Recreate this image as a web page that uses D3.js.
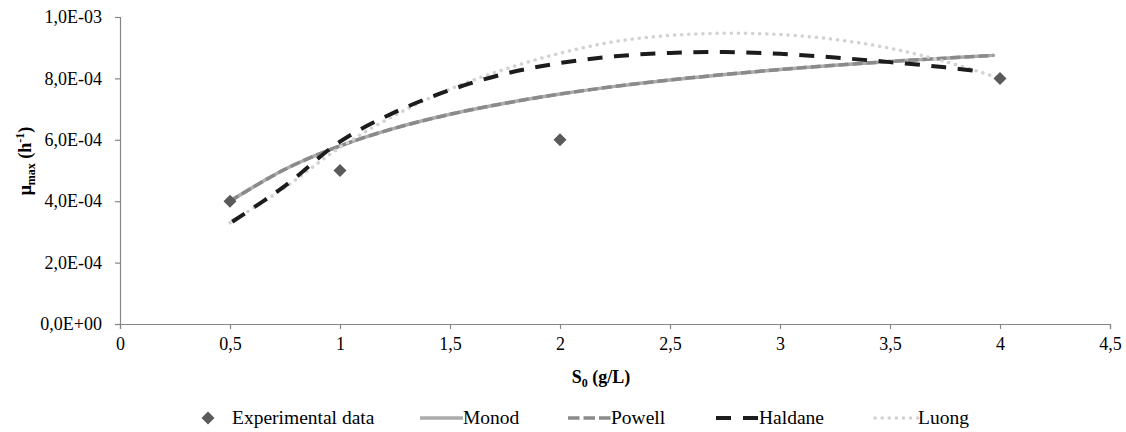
<!DOCTYPE html>
<html>
<head>
<meta charset="utf-8">
<script src="https://cdn.jsdelivr.net/npm/d3@7"></script>
<style>
  html, body { margin: 0; padding: 0; background: #fff; }
</style>
</head>
<body>
<svg id="chart" width="1126" height="432"></svg>
<script>
// Substrate concentration S0 (g/L) and measured maximum specific growth rates
const expS = [0.5, 1, 2, 4];
const expMu = [4.0e-4, 5.0e-4, 6.0e-4, 8.0e-4];

// Model curves (μmax in h-1)
const monodS = [0.5, 0.75, 1, 1.25, 1.5, 1.75, 2, 2.25, 2.5, 2.75, 3, 3.25, 3.5, 3.75, 3.97];
const monodMu = [4.0e-4, 5.04e-4, 5.80e-4, 6.38e-4, 6.83e-4, 7.19e-4, 7.49e-4, 7.74e-4, 7.95e-4, 8.13e-4, 8.29e-4, 8.43e-4, 8.55e-4, 8.66e-4, 8.75e-4];

const powellS = [0.5, 0.75, 1, 1.25, 1.5, 1.75, 2, 2.25, 2.5, 2.75, 3, 3.25, 3.5, 3.75, 3.97];
const powellMu = [4.0e-4, 5.04e-4, 5.80e-4, 6.38e-4, 6.83e-4, 7.19e-4, 7.49e-4, 7.74e-4, 7.95e-4, 8.13e-4, 8.29e-4, 8.43e-4, 8.55e-4, 8.66e-4, 8.75e-4];

const haldaneS = [0.51, 0.75, 1, 1.25, 1.5, 1.75, 2, 2.25, 2.5, 2.75, 3, 3.25, 3.5, 3.75, 3.92];
const haldaneMu = [3.33e-4, 4.5e-4, 5.94e-4, 6.9e-4, 7.62e-4, 8.15e-4, 8.5e-4, 8.72e-4, 8.83e-4, 8.86e-4, 8.80e-4, 8.68e-4, 8.53e-4, 8.36e-4, 8.22e-4];

const luongS = [0.5, 0.75, 1, 1.25, 1.5, 1.75, 2, 2.25, 2.5, 2.75, 3, 3.25, 3.5, 3.75, 4];
const luongMu = [3.3e-4, 4.45e-4, 5.75e-4, 6.8e-4, 7.65e-4, 8.3e-4, 8.82e-4, 9.2e-4, 9.4e-4, 9.47e-4, 9.43e-4, 9.27e-4, 8.98e-4, 8.55e-4, 8.0e-4];

const xTicks = [0, 0.5, 1, 1.5, 2, 2.5, 3, 3.5, 4, 4.5];
const yTicks = [0, 2e-4, 4e-4, 6e-4, 8e-4, 1e-3];
const legendNames = ["Experimental data", "Monod", "Powell", "Haldane", "Luong"];

const FONT = "Liberation Serif, Times New Roman, serif";
const svg = d3.select("#chart").attr("font-family", FONT);
const x = d3.scaleLinear().domain([0, 4.5]).range([120, 1110]);
const y = d3.scaleLinear().domain([0, 1e-3]).range([324, 17]);
const axisColor = "#868686";

// Decimal comma formats
const fmtX = v => String(v).replace(".", ",");
const fmtY = v => {
  const [m, e] = v.toExponential(1).split("e");
  const n = parseInt(e, 10);
  return m.replace(".", ",") + "E" + (n < 0 ? "-" : "+") + String(Math.abs(n)).padStart(2, "0");
};

// Axes
const xAxis = svg.append("g")
  .attr("transform", `translate(0,${y(0)})`)
  .call(d3.axisBottom(x).tickValues(xTicks).tickFormat(fmtX).tickSizeOuter(0).tickSize(5).tickPadding(5));
const yAxis = svg.append("g")
  .attr("transform", `translate(${x(0)},0)`)
  .call(d3.axisLeft(y).tickValues(yTicks).tickFormat(fmtY).tickSizeOuter(0).tickSize(5).tickPadding(13));
[xAxis, yAxis].forEach(g => {
  g.attr("font-family", FONT).attr("font-size", 18);
  g.select(".domain").attr("stroke", axisColor).attr("stroke-width", 1.2);
  g.selectAll(".tick line").attr("stroke", axisColor).attr("stroke-width", 1.2);
  g.selectAll(".tick text").attr("fill", "#000");
});
xAxis.selectAll(".tick text").attr("dy", "0.9em");

// Curves
const styles = {
  Monod:   { stroke: "#ababab", width: 3.5, dash: null, cap: "round" },
  Powell:  { stroke: "#8a8a8a", width: 3.5, dash: "10,4", cap: "butt" },
  Haldane: { stroke: "#1c1c1c", width: 4,   dash: "15,11.5", cap: "butt" },
  Luong:   { stroke: "#d2d2d2", width: 3.5, dash: "0.1,7", cap: "round" }
};
const line = d3.line().x(d => x(d[0])).y(d => y(d[1])).curve(d3.curveCatmullRom.alpha(0.5));
const series = [
  ["Monod", monodS, monodMu],
  ["Powell", powellS, powellMu],
  ["Luong", luongS, luongMu],
  ["Haldane", haldaneS, haldaneMu]
];
series.forEach(([name, s, mu]) => {
  const st = styles[name];
  svg.append("path")
    .datum(s.map((v, i) => [v, mu[i]]))
    .attr("fill", "none")
    .attr("stroke", st.stroke)
    .attr("stroke-width", st.width)
    .attr("stroke-linecap", st.cap)
    .attr("stroke-dasharray", st.dash)
    .attr("d", line);
});

// Experimental points
const diamond = d3.symbol(d3.symbolSquare, 85);
svg.append("g").selectAll("path")
  .data(expS.map((v, i) => [v, expMu[i]]))
  .join("path")
  .attr("d", diamond)
  .attr("fill", "#5a5a5a")
  .attr("transform", d => `translate(${x(d[0])},${y(d[1])}) rotate(45)`);

// Axis titles
const xt = svg.append("text")
  .attr("x", 601).attr("y", 383)
  .attr("text-anchor", "middle")
  .attr("font-size", 18).attr("font-weight", "bold");
xt.append("tspan").text("S");
xt.append("tspan").attr("dy", 4).attr("font-size", 12).text("0");
xt.append("tspan").attr("dy", -4).text(" (g/L)");

const yt = svg.append("text")
  .attr("transform", "translate(31,161) rotate(-90)")
  .attr("text-anchor", "middle")
  .attr("font-size", 18).attr("font-weight", "bold");
yt.append("tspan").text("μ");
yt.append("tspan").attr("dy", 4).attr("font-size", 12).text("max");
yt.append("tspan").attr("dy", -4).text(" (h");
yt.append("tspan").attr("dy", -7).attr("font-size", 12).text("-1");
yt.append("tspan").attr("dy", 7).text(")");

// Legend: one slot per entry (symbol start x), symbol 43 px wide, label right after
const legY = 418;
const legSlots = [200, 420, 568, 716, 875];
const legend = svg.append("g");
legendNames.forEach((name, i) => {
  const g = legend.append("g");
  const sx = legSlots[i];
  let textX;
  if (i === 0) {
    g.append("path").attr("d", diamond).attr("fill", "#5a5a5a")
      .attr("transform", `translate(${sx + 8},${legY}) rotate(45)`);
    textX = sx + 32;
  } else {
    const st = styles[name];
    g.append("line")
      .attr("x1", sx).attr("x2", sx + 43).attr("y1", legY).attr("y2", legY)
      .attr("stroke", st.stroke).attr("stroke-width", st.width)
      .attr("stroke-linecap", name === "Luong" ? "round" : "butt")
      .attr("stroke-dasharray", name === "Haldane" ? "15,12" : name === "Powell" ? "11.5,4" : st.dash);
    textX = sx + 43;
  }
  g.append("text").attr("x", textX).attr("y", legY + 6)
    .attr("font-size", 19.5).text(name);
});
</script>
</body>
</html>
